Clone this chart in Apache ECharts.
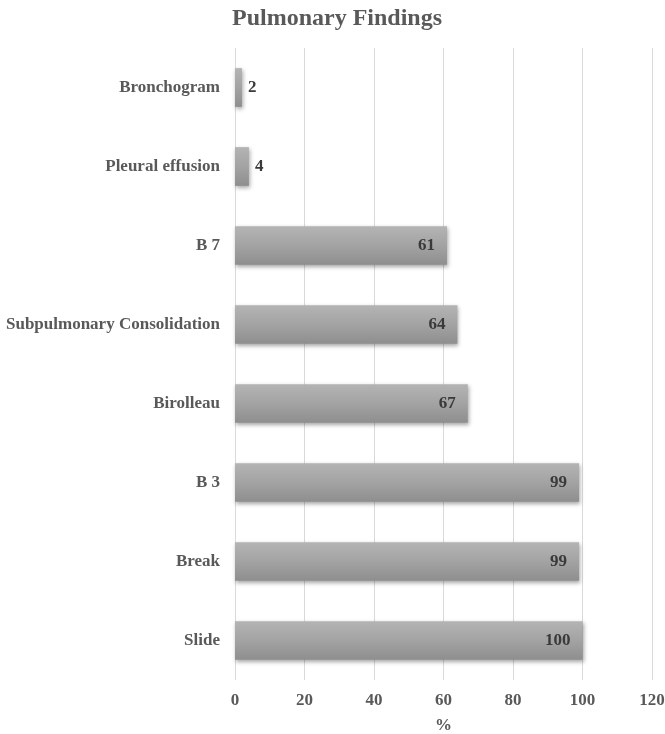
<!DOCTYPE html>
<html>
<head>
<meta charset="utf-8">
<script src="https://cdn.jsdelivr.net/npm/echarts@6/dist/echarts.min.js"></script>
<style>
  html, body { margin: 0; padding: 0; background: #fff; }
</style>
</head>
<body>
<div id="main" style="width: 665px; height: 734px"></div>
<script>
// data, bottom to top as ECharts draws a category y axis
const categories = ['Slide', 'Break', 'B 3', 'Birolleau', 'Subpulmonary Consolidation', 'B 7', 'Pleural effusion', 'Bronchogram']
const values = [100, 99, 99, 67, 64, 61, 4, 2]
const xTicks = [0, 20, 40, 60, 80, 100, 120]

const font = '"Liberation Serif", "Times New Roman", serif'
const chart = echarts.init(document.getElementById('main'))

const option = {
  title: {
    text: 'Pulmonary Findings',
    left: 332,
    textAlign: 'center',
    top: 2,
    textStyle: { fontFamily: font, fontSize: 24, fontWeight: 'bold', color: '#595959' }
  },
  grid: { left: 235, right: 13, top: 48, bottom: 54, outerBoundsMode: 'none' },
  xAxis: {
    type: 'value',
    min: xTicks[0],
    max: xTicks[xTicks.length - 1],
    interval: 20,
    name: '%',
    nameLocation: 'middle',
    nameGap: 37,
    nameTextStyle: { fontFamily: font, fontSize: 17, fontWeight: 'bold', color: '#595959' },
    axisLine: { show: false },
    axisTick: { show: false },
    axisLabel: { fontFamily: font, fontSize: 17, fontWeight: 'bold', color: '#595959', margin: 12 },
    splitLine: { lineStyle: { color: '#d9d9d9', width: 1 } }
  },
  yAxis: {
    type: 'category',
    data: categories,
    axisLine: { show: false },
    axisTick: { show: false },
    axisLabel: { fontFamily: font, fontSize: 17, fontWeight: 'bold', color: '#595959', margin: 15 }
  },
  series: [
    {
      type: 'bar',
      barWidth: '49%',
      itemStyle: {
        color: new echarts.graphic.LinearGradient(0, 0, 0, 1, [
          { offset: 0, color: '#b4b4b4' },
          { offset: 0.5, color: '#a3a3a3' },
          { offset: 1, color: '#8e8e8e' }
        ]),
        shadowColor: 'rgba(0,0,0,0.35)',
        shadowBlur: 4,
        shadowOffsetX: 1,
        shadowOffsetY: 2
      },
      label: {
        show: true,
        position: 'insideRight',
        distance: 12,
        fontFamily: font,
        fontSize: 17,
        fontWeight: 'bold',
        color: '#3a3a3a'
      },
      // labels of very short bars sit outside the bar
      data: values.map(v => v < 10
        ? { value: v, label: { position: 'right', distance: 6 } }
        : v)
    }
  ]
}

chart.setOption(option)
</script>
</body>
</html>
